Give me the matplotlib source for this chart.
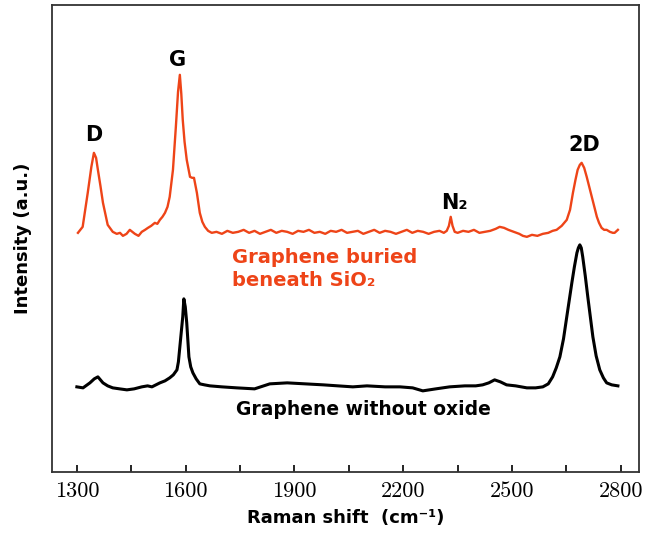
import matplotlib
matplotlib.use("Agg")
import matplotlib.pyplot as plt
from matplotlib.ticker import FixedLocator

# Raman spectra (intensity in arbitrary units)
shift_buried = [1303, 1316, 1330, 1340, 1347, 1353, 1358, 1365, 1372, 1385, 1399, 1410, 1419,
                1427, 1437, 1446, 1453, 1460, 1470, 1479, 1488, 1496, 1505, 1515, 1522, 1529,
                1536, 1543, 1550, 1556, 1565, 1573, 1579, 1584, 1588, 1592, 1597, 1603, 1612,
                1618, 1623, 1631, 1639, 1646, 1653, 1662, 1672, 1685, 1700, 1715, 1730, 1745,
                1760, 1775, 1790, 1805, 1820, 1835, 1850, 1865, 1880, 1895, 1910, 1925, 1940,
                1955, 1970, 1985, 2000, 2015, 2030, 2045, 2060, 2075, 2090, 2105, 2120, 2135,
                2150, 2165, 2180, 2195, 2210, 2225, 2240, 2255, 2270, 2285, 2300, 2312, 2320,
                2326, 2331, 2336, 2342, 2350, 2365, 2380, 2395, 2410, 2425, 2440, 2455, 2466,
                2478, 2490, 2505, 2520, 2530, 2541, 2555, 2570, 2585, 2600, 2612, 2623, 2637,
                2651, 2660, 2668, 2675, 2681, 2687, 2692, 2699, 2706, 2713, 2720, 2727, 2734,
                2740, 2747, 2754, 2761, 2770, 2778, 2783, 2792]
int_buried = [239, 245, 279, 305, 319, 314, 302, 286, 269, 247, 240, 238, 239,
              236, 238, 242, 240, 238, 236, 240, 242, 244, 246, 249, 248, 252,
              255, 259, 265, 275, 302, 345, 380, 397, 378, 352, 330, 312, 295,
              294, 294, 279, 259, 250, 245, 241, 239, 240, 238, 241, 239, 240,
              242, 239, 241, 238, 240, 242, 239, 241, 240, 238, 241, 240, 242,
              239, 240, 238, 241, 240, 242, 239, 240, 241, 238, 240, 242, 239,
              241, 240, 238, 240, 242, 239, 241, 240, 238, 240, 241, 239, 241,
              246, 255, 246, 240, 239, 241, 240, 242, 239, 240, 241, 243, 245,
              244, 242, 240, 238, 236, 235, 237, 236, 238, 239, 241, 242, 246,
              252, 262, 279, 292, 302, 307, 309, 304, 295, 285, 275, 265, 255,
              249, 244, 242, 242, 240, 239, 239, 242]

shift_bare = [1300, 1317, 1336, 1348, 1358, 1365, 1372, 1385, 1399, 1418, 1438, 1458, 1479,
              1495, 1507, 1518, 1529, 1543, 1556, 1566, 1576, 1580, 1584, 1588, 1592, 1595,
              1599, 1603, 1606, 1609, 1614, 1620, 1629, 1639, 1652, 1667, 1700, 1741, 1790,
              1832, 1880, 1930, 1980, 2020, 2061, 2100, 2150, 2191, 2226, 2254, 2290, 2328,
              2370, 2400, 2419, 2436, 2452, 2468, 2485, 2510, 2541, 2565, 2585, 2600, 2612,
              2622, 2632, 2642, 2651, 2658, 2665, 2672, 2679, 2683, 2687, 2691, 2695, 2702,
              2709, 2716, 2723, 2732, 2742, 2752, 2761, 2775, 2792]
int_bare = [85, 84, 89, 93, 95, 92, 89, 86, 84, 83, 82, 83, 85,
            86, 85, 87, 89, 91, 94, 97, 102, 110, 125, 140, 155, 173,
            165, 149, 132, 115, 105, 99, 93, 88, 87, 86, 85, 84, 83,
            88, 89, 88, 87, 86, 85, 86, 85, 85, 84, 81, 83, 85,
            86, 86, 87, 89, 92, 90, 87, 86, 84, 84, 85, 88, 95,
            104, 115, 133, 155, 172, 189, 205, 219, 224, 227, 224, 215, 196,
            175, 155, 135, 116, 102, 94, 89, 87, 86]

major_ticks = [1300, 1600, 1900, 2200, 2500, 2800]
minor_ticks = [1450, 1750, 2050, 2350, 2650]

red = "#ee4418"

fig = plt.figure(figsize=(6.48, 5.35), dpi=100)
ax = fig.add_axes([0.080, 0.118, 0.906, 0.873])

ax.plot(shift_buried, int_buried, color=red, linewidth=1.7)
ax.plot(shift_bare, int_bare, color="black", linewidth=2.2)

ax.set_xlim(1231, 2850)
ax.set_ylim(0, 467)
ax.set_yticks([])
ax.xaxis.set_major_locator(FixedLocator(major_ticks))
ax.xaxis.set_minor_locator(FixedLocator(minor_ticks))
ax.tick_params(axis="x", which="both", direction="in", length=5, width=1.2, pad=7)
for lab in ax.get_xticklabels():
    lab.set_fontfamily("cmr10")
    lab.set_fontsize(16)
for s in ax.spines.values():
    s.set_linewidth(1.3)
    s.set_color("#333333")

ax.set_xlabel("Raman shift  (cm\u207b\u00b9)", fontsize=13, fontweight="bold", labelpad=6)
ax.set_ylabel("Intensity (a.u.)", fontsize=13, fontweight="bold", labelpad=14)

peak_kw = dict(fontsize=15, fontweight="bold", ha="center", va="center")
ax.text(1347, 337, "D", **peak_kw)
ax.text(1578, 412, "G", **peak_kw)
ax.text(2342, 269, "N\u2082", **peak_kw)
ax.text(2698, 327, "2D", **peak_kw)

ax.text(1727, 203, "Graphene buried\nbeneath SiO\u2082", color=red, fontsize=14,
        fontweight="bold", ha="left", va="center", linespacing=1.25)
ax.text(2090, 62, "Graphene without oxide", fontsize=13.5, fontweight="bold",
        ha="center", va="center")

fig.savefig("out.png", dpi=100)
